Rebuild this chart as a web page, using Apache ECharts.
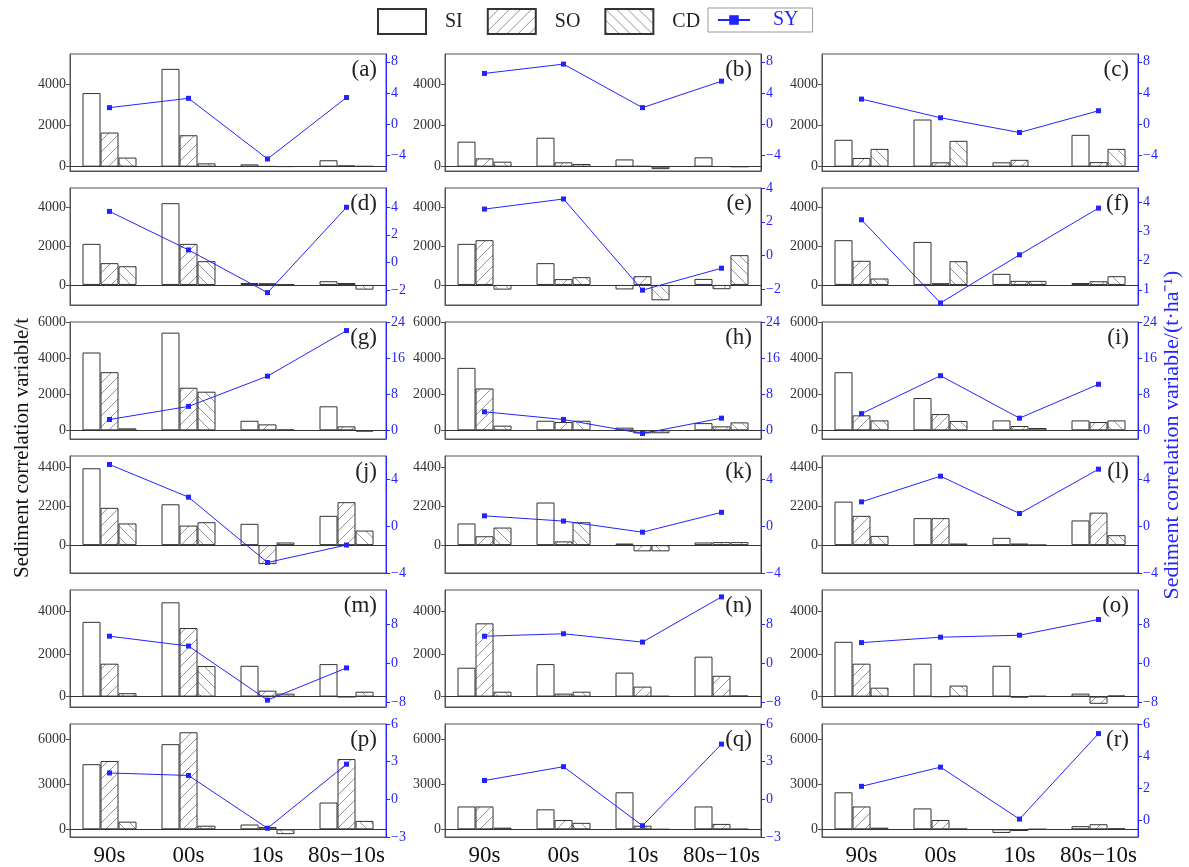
<!DOCTYPE html>
<html>
<head>
<meta charset="utf-8">
<script src="https://cdn.jsdelivr.net/npm/echarts@6/dist/echarts.min.js"></script>
<style>
  html, body { margin: 0; padding: 0; background: #fff; }
  #chart { width: 1189px; height: 867px; }
</style>
</head>
<body>
<div id="chart"></div>
<script>
// categories and panel labels
const categories = ['90s', '00s', '10s', '80s−10s']
const panelNames = ['(a)', '(b)', '(c)', '(d)', '(e)', '(f)', '(g)', '(h)', '(i)',
  '(j)', '(k)', '(l)', '(m)', '(n)', '(o)', '(p)', '(q)', '(r)']

// bar values per panel (t)
const SI = [
  [3560, 4730, 110, 310], [1210, 1400, 350, 450], [1300, 2280, 210, 1540],
  [2110, 4200, 100, 190], [2110, 1120, -230, 310], [2300, 2210, 570, 100],
  [4310, 5410, 530, 1330], [3460, 530, 150, 400], [3220, 1790, 550, 550],
  [4330, 2300, 1200, 1650], [1220, 2400, 90, 150], [2450, 1520, 410, 1390],
  [3520, 4440, 1450, 1530], [1360, 1530, 1130, 1880], [2580, 1550, 1450, 140],
  [4330, 5660, 320, 1780], [1520, 1330, 2460, 1520], [2460, 1390, -240, 210]
]
const SO = [
  [1650, 1520, 20, 60], [400, 210, 30, 15], [420, 210, 330, 220],
  [1120, 2110, 90, 100], [2300, 300, 450, -220], [1240, 90, 210, 190],
  [3220, 2360, 330, 220], [2320, 460, -170, 220], [830, 900, 240, 460],
  [2100, 1100, -1070, 2420], [500, 210, -350, 170], [1650, 1520, 90, 1830],
  [1550, 3230, 280, -20], [3450, 140, 470, 980], [1550, 0, -40, -340],
  [4540, 6450, 150, 4670], [1520, 620, 240, 360], [1520, 620, -110, 340]
]
const CD = [
  [440, 160, 10, 30], [240, 130, -120, 0], [860, 1250, 15, 860],
  [960, 1220, 20, -240], [-240, 400, -790, 1530], [330, 1220, 210, 450],
  [110, 2140, 40, -70], [260, 530, -160, 440], [550, 520, 130, 550],
  [1220, 1290, 150, 820], [990, 1290, -350, 170], [520, 90, 10, 560],
  [160, 1440, 140, 230], [230, 230, 30, 50], [420, 520, 30, 50],
  [510, 240, -320, 560], [110, 430, 0, 20], [110, 40, 10, 60]
]
// line values per panel (t·ha-1)
const SY = [
  [2.1, 3.3, -4.5, 3.4], [6.5, 7.7, 2.1, 5.5], [3.2, 0.8, -1.1, 1.7],
  [3.7, 0.9, -2.2, 4.0], [2.75, 3.35, -2.05, -0.75], [3.4, 0.55, 2.2, 3.8],
  [2.4, 5.3, 12.0, 22.1], [4.1, 2.4, -0.7, 2.7], [3.7, 12.1, 2.7, 10.2],
  [5.3, 2.5, -3.1, -1.6], [0.9, 0.45, -0.5, 1.2], [2.1, 4.3, 1.1, 4.9],
  [5.5, 3.5, -7.5, -0.95], [5.5, 6.0, 4.3, 13.5], [4.2, 5.3, 5.7, 8.9],
  [2.1, 1.9, -2.3, 2.8], [1.5, 2.6, -2.1, 4.4], [2.1, 3.3, 0.05, 5.4]
]

// axis extents and tick labels
const leftRange = [[-210, 5450], [-1030, 4980], [-480, 6000], [-1570, 5020], [-490, 5020], [-510, 7000]]
const leftTicks = [[0, 2000, 4000], [0, 2000, 4000], [0, 2000, 4000, 6000], [0, 2200, 4400], [0, 2000, 4000], [0, 3000, 6000]]
const rightRange = [
  [-6.05, 9], [-6.05, 9], [-6.05, 9],
  [-3.1, 5.4], [-2.93, 4], [0.48, 4.49],
  [-1.92, 24], [-1.92, 24], [-1.92, 24],
  [-4, 6.03], [-4, 6.03], [-4, 6.03],
  [-8.9, 14.9], [-8.9, 14.9], [-8.9, 14.9],
  [-3, 6], [-3, 6], [-1.07, 6]
]
const rightTicks = [
  [-4, 0, 4, 8], [-4, 0, 4, 8], [-4, 0, 4, 8],
  [-2, 0, 2, 4], [-2, 0, 2, 4], [1, 2, 3, 4],
  [0, 8, 16, 24], [0, 8, 16, 24], [0, 8, 16, 24],
  [-4, 0, 4], [-4, 0, 4], [-4, 0, 4],
  [-8, 0, 8], [-8, 0, 8], [-8, 0, 8],
  [-3, 0, 3, 6], [-3, 0, 3, 6], [0, 2, 4, 6]
]

const FONT = 'Liberation Serif'
const BLUE = '#2323ff'
const GRAY = '#555'
const colLeft = [70, 445, 822]
const rowTop = [54, 188, 322, 456, 590, 724]
const W = 316, H = 117

const hatch = (dir) => {
  const n = 11
  const c = document.createElement('canvas')
  c.width = c.height = n
  const g = c.getContext('2d')
  g.fillStyle = '#fff'
  g.fillRect(0, 0, n, n)
  g.strokeStyle = '#8a8a8a'
  g.lineWidth = 0.9
  g.beginPath()
  if (dir > 0) {
    g.moveTo(-1, n + 1); g.lineTo(n + 1, -1)
    g.moveTo(-1, 1); g.lineTo(1, -1)
    g.moveTo(n - 1, n + 1); g.lineTo(n + 1, n - 1)
  } else {
    g.moveTo(-1, -1); g.lineTo(n + 1, n + 1)
    g.moveTo(n - 1, -1); g.lineTo(n + 1, 1)
    g.moveTo(-1, n - 1); g.lineTo(1, n + 1)
  }
  g.stroke()
  return c
}
const soFill = { image: hatch(1), repeat: 'repeat' }
const cdFill = { image: hatch(-1), repeat: 'repeat' }

const grids = [], xAxes = [], yAxes = [], series = [], titles = []

for (let i = 0; i < 18; i++) {
  const row = Math.floor(i / 3), col = i % 3
  const left = colLeft[col], top = rowTop[row]
  grids.push({ left, top, width: W, height: H, show: true, borderColor: GRAY, borderWidth: 1 })
  titles.push({
    text: panelNames[i], right: 1189 - (left + W) + 9, top: top + 4, padding: 0,
    textStyle: { fontFamily: FONT, fontSize: 23, fontWeight: 'normal', color: '#222' }
  })
  xAxes.push({
    type: 'category', gridIndex: i, data: categories,
    axisLine: { onZero: false, lineStyle: { color: GRAY, width: 1 } },
    axisTick: { alignWithLabel: true, length: 4, lineStyle: { color: GRAY } },
    axisLabel: { show: row === 5, interval: 0, fontFamily: FONT, fontSize: 23, color: '#111', margin: 7 }
  })
  yAxes.push({
    type: 'value', gridIndex: i, position: 'left',
    min: leftRange[row][0], max: leftRange[row][1],
    splitLine: { show: false },
    axisLine: { show: true, lineStyle: { color: GRAY, width: 1 } },
    axisTick: { show: true, length: 4, customValues: leftTicks[row], lineStyle: { color: GRAY } },
    axisLabel: {
      customValues: leftTicks[row], formatter: (v) => String(v),
      fontFamily: FONT, fontSize: 14, color: '#333', margin: 4
    }
  })
  yAxes.push({
    type: 'value', gridIndex: i, position: 'right',
    min: rightRange[i][0], max: rightRange[i][1],
    splitLine: { show: false },
    axisLine: { show: true, lineStyle: { color: BLUE, width: 1 } },
    axisTick: { show: true, length: 4, customValues: rightTicks[i], lineStyle: { color: BLUE } },
    axisLabel: {
      customValues: rightTicks[i], formatter: (v) => String(v).replace('-', '−'),
      fontFamily: FONT, fontSize: 14, color: BLUE, margin: 5
    }
  })
  const barBase = {
    type: 'bar', xAxisIndex: i, yAxisIndex: 2 * i, barWidth: 18, barGap: '0%'
  }
  series.push({
    ...barBase, name: 'SI', data: SI[i],
    itemStyle: { color: '#fff', borderColor: '#333', borderWidth: 1 },
    markLine: {
      silent: true, symbol: ['none', 'none'], label: { show: false },
      lineStyle: { color: '#333', type: 'solid', width: 1.2 },
      data: [{ yAxis: 0 }]
    }
  })
  series.push({
    ...barBase, name: 'SO', data: SO[i],
    itemStyle: { color: soFill, borderColor: '#333', borderWidth: 1 }
  })
  series.push({
    ...barBase, name: 'CD', data: CD[i],
    itemStyle: { color: cdFill, borderColor: '#333', borderWidth: 1 }
  })
  series.push({
    type: 'line', name: 'SY', xAxisIndex: i, yAxisIndex: 2 * i + 1, data: SY[i],
    symbol: 'rect', symbolSize: 5, z: 5,
    lineStyle: { color: BLUE, width: 1 },
    itemStyle: { color: BLUE }
  })
}

const option = {
  animation: false,
  backgroundColor: '#fff',
  title: titles,
  legend: [
    {
      data: ['SI', 'SO', 'CD'], left: 372, top: 3, icon: 'rect',
      itemWidth: 48, itemHeight: 25, itemGap: 24,
      textStyle: { fontFamily: FONT, fontSize: 20, color: '#222', padding: [0, 0, 0, 14] }
    },
    {
      data: [{ name: 'SY', textStyle: { color: BLUE } }], left: 708, top: 8,
      itemWidth: 32, itemHeight: 12,
      borderColor: '#999', borderWidth: 1, padding: [2, 14, 2, 9],
      textStyle: { fontFamily: FONT, fontSize: 20, color: BLUE, padding: [0, 0, 0, 18] }
    }
  ],
  grid: grids,
  xAxis: xAxes,
  yAxis: yAxes,
  series,
  graphic: [
    {
      type: 'text', x: 22, y: 448, rotation: Math.PI / 2,
      style: {
        text: 'Sediment correlation variable/t', fill: '#111',
        font: '21px "Liberation Serif"', textAlign: 'center', textVerticalAlign: 'middle'
      }
    },
    {
      type: 'text', x: 1172, y: 435, rotation: Math.PI / 2,
      style: {
        text: 'Sediment correlation variable/(t·ha⁻¹)', fill: BLUE,
        font: '22px "Liberation Serif"', textAlign: 'center', textVerticalAlign: 'middle'
      }
    }
  ]
}

const chart = echarts.init(document.getElementById('chart'))
chart.setOption(option)
</script>
</body>
</html>
